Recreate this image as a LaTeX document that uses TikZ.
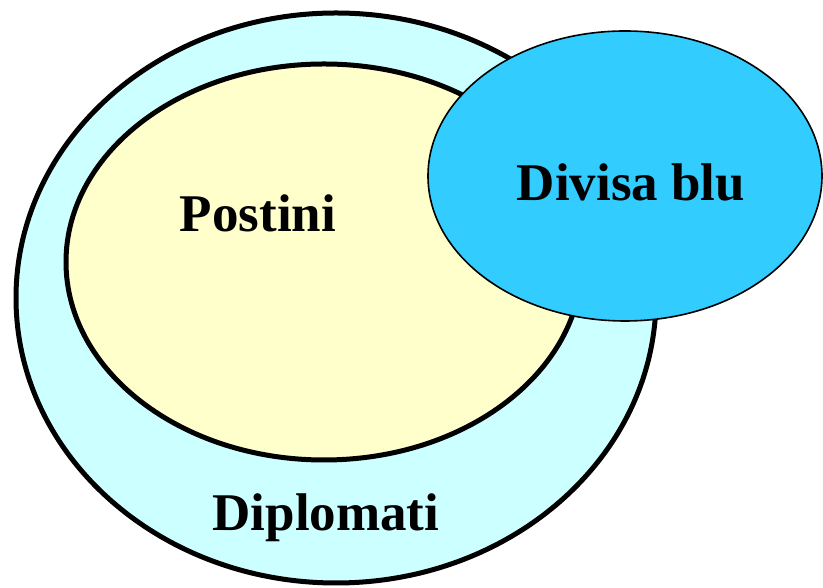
\documentclass[tikz,border=0pt]{standalone}
\usepackage{fontspec}
\setmainfont{Liberation Serif}
\definecolor{outerc}{HTML}{CCFFFF}
\definecolor{innerc}{HTML}{FFFFCC}
\definecolor{bluec}{HTML}{33CCFF}
\begin{document}
\begin{tikzpicture}[x=1pt,y=1pt,
  lbl/.style={font=\fontsize{53}{60}\selectfont\bfseries, text=black, inner sep=0pt}]
\useasboundingbox (0,0) rectangle (823,588);
\path[fill=outerc, draw=black, line width=5pt] (336,290) ellipse [x radius=320, y radius=285];
\path[fill=innerc, draw=black, line width=5pt] (324,326) ellipse [x radius=258, y radius=198];
\path[fill=bluec, draw=black, line width=1.6pt] (625,412) ellipse [x radius=197, y radius=145];
\node[lbl] (postini) at (258,375) {Postini};
\node[lbl] (divisa) at (631,406) {Divisa blu};
\node[lbl] (diplomati) at (326,70) {Diplomati};
\end{tikzpicture}
\end{document}
